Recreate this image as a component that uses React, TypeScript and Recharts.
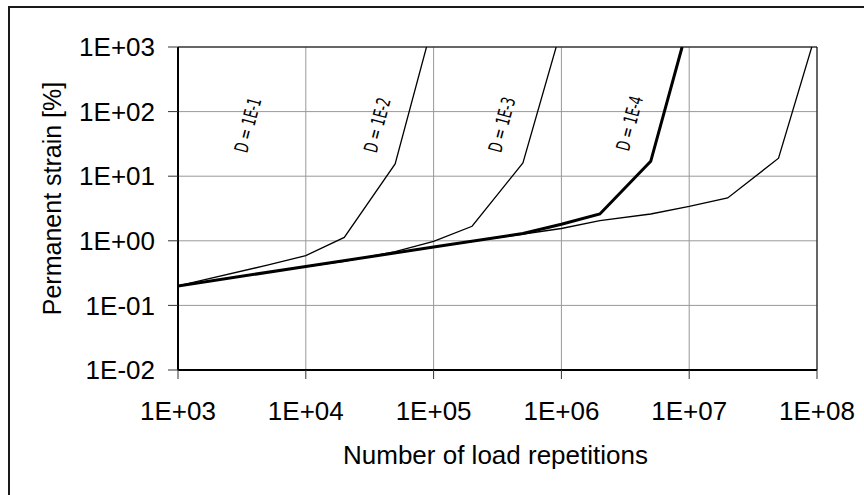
import React from 'react';
import { LineChart, Line, XAxis, YAxis, CartesianGrid, ReferenceLine, ReferenceDot } from 'recharts';

// Number of load repetitions vs permanent strain [%]
const seriesD1 = [
  { n: 1e3, e: 0.2 }, { n: 5e3, e: 0.42 }, { n: 1e4, e: 0.59 }, { n: 2e4, e: 1.13 },
  { n: 5e4, e: 15.5 }, { n: 8.8e4, e: 1000 },
];
const seriesD2 = [
  { n: 1e3, e: 0.2 }, { n: 1e4, e: 0.4 }, { n: 2e4, e: 0.48 }, { n: 5e4, e: 0.68 },
  { n: 1e5, e: 0.98 }, { n: 2e5, e: 1.68 }, { n: 5e5, e: 16 }, { n: 9.1e5, e: 1000 },
];
const seriesD3 = [
  { n: 1e3, e: 0.2 }, { n: 1e4, e: 0.4 }, { n: 1e5, e: 0.8 }, { n: 5e5, e: 1.3 },
  { n: 1e6, e: 1.8 }, { n: 2e6, e: 2.6 }, { n: 5e6, e: 17 }, { n: 8.8e6, e: 1000 },
];
const seriesD4 = [
  { n: 1e3, e: 0.2 }, { n: 1e4, e: 0.4 }, { n: 1e5, e: 0.8 }, { n: 1e6, e: 1.55 },
  { n: 2e6, e: 2.05 }, { n: 5e6, e: 2.6 }, { n: 1e7, e: 3.4 }, { n: 2e7, e: 4.6 },
  { n: 5e7, e: 19 }, { n: 9.1e7, e: 1000 },
];

const curveLabels = ['D = 1E-1', 'D = 1E-2', 'D = 1E-3', 'D = 1E-4'];
const curveLabelN = [3.5e3, 3.6e4, 3.4e5, 3.4e6];
const curveLabelE = [62, 62, 63, 66];

const xTicks = [1e3, 1e4, 1e5, 1e6, 1e7, 1e8];
const xTickLabels = ['1E+03', '1E+04', '1E+05', '1E+06', '1E+07', '1E+08'];
const yTicks = [1e-2, 1e-1, 1e0, 1e1, 1e2, 1e3];
const yTickLabels = ['1E-02', '1E-01', '1E+00', '1E+01', '1E+02', '1E+03'];

const xTitle = 'Number of load repetitions';
const yTitle = 'Permanent strain [%]';

const FONT = '"Liberation Sans", Arial, sans-serif';

const labelFor = (ticks: number[], labels: string[]) => (v: number) => {
  let best = 0;
  let bd = Infinity;
  ticks.forEach((t, i) => {
    const d = Math.abs(Math.log10(t) - Math.log10(v));
    if (d < bd) { bd = d; best = i; }
  });
  return labels[best];
};

const CurveLabel = (text: string) => (props: any) => {
  const { cx, cy } = props;
  if (cx == null || cy == null) return null;
  return (
    <text
      x={cx}
      y={cy}
      transform={`rotate(-75 ${cx} ${cy})`}
      textAnchor="middle"
      dominantBaseline="central"
      fontFamily='"DejaVu Sans Condensed", "DejaVu Sans", sans-serif'
      fontSize={19}
      fill="#000"
      textLength={56}
      lengthAdjust="spacingAndGlyphs"
    >
      {text}
    </text>
  );
};

export default function App() {
  return (
    <div style={{ position: 'absolute', left: 0, top: 0, width: 864, height: 495, overflow: 'hidden', background: '#fff' }}>
      <div style={{ position: 'absolute', left: 8, top: 6, width: 900, height: 600, borderLeft: '2px solid #1a1a1a', borderTop: '2px solid #1a1a1a' }} />
      <div style={{ position: 'absolute', left: 0, top: 0 }}>
        <LineChart width={864} height={495} margin={{ top: 47, right: 47, bottom: 0, left: 0 }}>
          <CartesianGrid stroke="#999" strokeWidth={1} />
          <XAxis
            type="number"
            dataKey="n"
            scale="log"
            domain={[1e3, 1e8]}
            ticks={xTicks}
            allowDataOverflow
            height={125}
            tickSize={9}
            tickMargin={23}
            tickFormatter={labelFor(xTicks, xTickLabels)}
            tick={{ fill: '#000', fontSize: 26, fontFamily: FONT }}
            axisLine={{ stroke: '#000', strokeWidth: 2 }}
            tickLine={{ stroke: '#333', strokeWidth: 1 }}
            label={{
              content: (p: any) => {
                const vb = p.viewBox;
                return (
                  <text x={vb.x + vb.width / 2 - 2} y={vb.y + 93.6} textAnchor="middle" fontSize={26} fontFamily={FONT} fill="#000">
                    {xTitle}
                  </text>
                );
              },
            }}
          />
          <YAxis
            type="number"
            dataKey="e"
            scale="log"
            domain={[1e-2, 1e3]}
            ticks={yTicks}
            allowDataOverflow
            width={178}
            tickSize={10}
            tickMargin={13}
            tickFormatter={labelFor(yTicks, yTickLabels)}
            tick={{ fill: '#000', fontSize: 26, fontFamily: FONT }}
            axisLine={{ stroke: '#000', strokeWidth: 2 }}
            tickLine={{ stroke: '#333', strokeWidth: 1 }}
            label={{
              content: (p: any) => {
                const vb = p.viewBox;
                const cy = vb.y + vb.height / 2 - 10;
                return (
                  <text x={61} y={cy} transform={`rotate(-90 61 ${cy})`} textAnchor="middle" fontSize={25} fontFamily={FONT} fill="#000">
                    {yTitle}
                  </text>
                );
              },
            }}
          />
          <ReferenceLine y={1e3} stroke="#000" strokeWidth={1} />
          <ReferenceLine x={1e8} stroke="#000" strokeWidth={1} />
          <Line data={seriesD1} dataKey="e" type="linear" stroke="#000" strokeWidth={1.3} dot={false} isAnimationActive={false} />
          <Line data={seriesD2} dataKey="e" type="linear" stroke="#000" strokeWidth={1.3} dot={false} isAnimationActive={false} />
          <Line data={seriesD4} dataKey="e" type="linear" stroke="#000" strokeWidth={1.3} dot={false} isAnimationActive={false} />
          <Line data={seriesD3} dataKey="e" type="linear" stroke="#000" strokeWidth={3} dot={false} isAnimationActive={false} />
          {curveLabels.map((t, i) => (
            <ReferenceDot key={t} x={curveLabelN[i]} y={curveLabelE[i]} r={0} shape={CurveLabel(t)} />
          ))}
        </LineChart>
      </div>
    </div>
  );
}
